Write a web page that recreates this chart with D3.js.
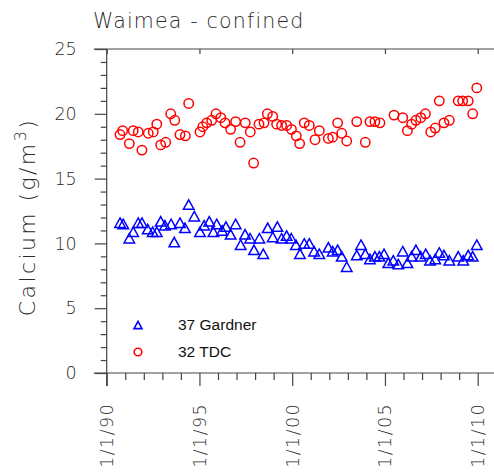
<!DOCTYPE html>
<html>
<head>
<meta charset="utf-8">
<script src="https://cdn.jsdelivr.net/npm/d3@7"></script>
<style>
  html, body { margin: 0; padding: 0; background: #fff; }
  svg { display: block; }
</style>
</head>
<body>
<svg id="chart" width="494" height="472"></svg>
<script>
// Calcium concentrations, Waimea confined aquifer (sample dates as decimal years)
const gardnerDates = [1990.72, 1990.89, 1991.22, 1991.43, 1991.70, 1991.90, 1992.21, 1992.48, 1992.70, 1992.91,
  1993.14, 1993.47, 1993.64, 1993.95, 1994.22, 1994.42, 1994.72, 1995.03, 1995.25, 1995.53,
  1995.75, 1995.93, 1996.22, 1996.43, 1996.68, 1996.95, 1997.22, 1997.46, 1997.73, 1997.94,
  1998.23, 1998.44, 1998.68, 1998.95, 1999.20, 1999.43, 1999.70, 1999.95, 2000.20, 2000.42,
  2000.65, 2000.92, 2001.18, 2001.46, 2001.95, 2002.18, 2002.45, 2002.67, 2002.94, 2003.48,
  2003.71, 2003.94, 2004.19, 2004.46, 2004.70, 2004.95, 2005.18, 2005.45, 2005.72, 2005.96,
  2006.21, 2006.44, 2006.67, 2006.93, 2007.20, 2007.43, 2007.71, 2007.93, 2008.18, 2008.47,
  2008.95, 2009.22, 2009.49, 2009.73, 2009.95];
const gardnerValues = [11.6, 11.5, 10.4, 10.9, 11.6, 11.6, 11.1, 10.9, 10.9, 11.7,
  11.4, 11.5, 10.1, 11.6, 11.2, 13.0, 12.1, 10.9, 11.4, 11.7,
  10.9, 11.5, 11.0, 11.3, 10.7, 11.5, 9.9, 10.7, 10.4, 9.5,
  10.4, 9.2, 11.2, 10.5, 11.3, 10.4, 10.6, 10.4, 9.9, 9.2,
  10.0, 10.0, 9.4, 9.2, 9.7, 9.4, 9.5, 9.0, 8.2, 9.1,
  9.9, 9.2, 8.8, 9.0, 9.0, 9.2, 8.5, 8.7, 8.4, 9.4,
  8.5, 9.0, 9.5, 9.0, 9.2, 8.7, 8.8, 9.3, 9.1, 8.7,
  9.0, 8.7, 9.1, 9.0, 9.9];

const tdcDates = [1990.72, 1990.86, 1991.22, 1991.43, 1991.70, 1991.90, 1992.24, 1992.51, 1992.70, 1992.91,
  1993.18, 1993.45, 1993.67, 1993.95, 1994.24, 1994.42, 1995.03, 1995.18, 1995.39, 1995.66,
  1995.89, 1996.15, 1996.38, 1996.68, 1996.95, 1997.19, 1997.47, 1997.74, 1997.92, 1998.21,
  1998.48, 1998.66, 1998.95, 1999.16, 1999.43, 1999.70, 1999.96, 2000.22, 2000.40, 2000.65,
  2000.92, 2001.23, 2001.46, 2001.95, 2002.18, 2002.45, 2002.67, 2002.94, 2003.48, 2003.94,
  2004.19, 2004.46, 2004.73, 2005.49, 2005.96, 2006.21, 2006.44, 2006.67, 2006.93, 2007.18,
  2007.47, 2007.71, 2007.93, 2008.18, 2008.47, 2008.95, 2009.19, 2009.49, 2009.73, 2009.95];
const tdcValues = [18.4, 18.7, 17.7, 18.7, 18.6, 17.2, 18.5, 18.6, 19.2, 17.6,
  17.8, 20.0, 19.5, 18.4, 18.3, 20.8, 18.6, 19.0, 19.3, 19.5,
  20.0, 19.7, 19.3, 18.8, 19.4, 17.8, 19.3, 18.6, 16.2, 19.2,
  19.3, 20.0, 19.8, 19.2, 19.1, 19.1, 18.8, 18.3, 17.7, 19.3,
  19.1, 18.0, 18.7, 18.1, 18.2, 19.3, 18.5, 17.9, 19.4, 17.8,
  19.4, 19.4, 19.3, 19.9, 19.7, 18.7, 19.2, 19.5, 19.7, 20.0,
  18.6, 18.9, 21.0, 19.3, 19.5, 21.0, 21.0, 21.0, 20.0, 22.0];

const yearTicks = [1990, 1995, 2000, 2005, 2010];
const yearTickLabels = ["1/1/90", "1/1/95", "1/1/00", "1/1/05", "1/1/10"];
const valueTicks = [0, 5, 10, 15, 20, 25];

const seriesNames = ["37 Gardner", "32 TDC"];
const seriesColors = ["#0000ff", "#ff0000"];

const svg = d3.select("#chart");
const W = 494;
const axisColor = "#444";
const labelFont = "'DejaVu Sans', sans-serif";
const labelWeight = 200;
const labelColor = "#2a2a2a";

const x = d3.scaleLinear().domain([1990, 2010]).range([106.7, 477.7]);
const y = d3.scaleLinear().domain([0, 25]).range([373, 49]);

// Title
svg.append("text")
  .attr("x", 93).attr("y", 28)
  .attr("font-family", labelFont)
  .attr("font-weight", labelWeight)
  .attr("font-size", 20.5)
  .attr("letter-spacing", 1.2)
  .attr("fill", labelColor)
  .text("Waimea - confined");

// Frame lines: top, bottom, left
const x0 = x(1990), yTop = y(25), yBot = y(0);
svg.append("line").attr("x1", x0 - 13).attr("x2", W).attr("y1", yTop).attr("y2", yTop)
  .attr("stroke", axisColor).attr("stroke-width", 1.2);
svg.append("line").attr("x1", x0 - 13).attr("x2", W).attr("y1", yBot).attr("y2", yBot)
  .attr("stroke", axisColor).attr("stroke-width", 1.2);
svg.append("line").attr("x1", x0).attr("x2", x0).attr("y1", yTop).attr("y2", yBot + 13)
  .attr("stroke", axisColor).attr("stroke-width", 1.2);

// Left axis: major + minor ticks
const gLeft = svg.append("g").attr("transform", `translate(${x0},0)`)
  .call(d3.axisLeft(y).tickValues(valueTicks).tickSize(12).tickPadding(18).tickFormat(d3.format("d")));
gLeft.select(".domain").remove();
gLeft.selectAll(".tick line").attr("stroke", axisColor).attr("stroke-width", 1.2);
gLeft.selectAll(".tick text")
  .attr("font-family", labelFont).attr("font-weight", labelWeight)
  .attr("font-size", 17.5).attr("fill", labelColor);

const minorValues = d3.range(0, 26).filter(v => v % 5 !== 0);
const gLeftMinor = svg.append("g").attr("transform", `translate(${x0},0)`)
  .call(d3.axisLeft(y).tickValues(minorValues).tickSize(6).tickFormat(""));
gLeftMinor.select(".domain").remove();
gLeftMinor.selectAll(".tick line").attr("stroke", axisColor).attr("stroke-width", 1.2);

// Bottom axis: major ticks with rotated date labels, yearly minor ticks
const gBottom = svg.append("g").attr("transform", `translate(0,${yBot})`)
  .call(d3.axisBottom(x).tickValues(yearTicks).tickSize(13).tickFormat((d, i) => yearTickLabels[i]));
gBottom.select(".domain").remove();
gBottom.selectAll(".tick line").attr("stroke", axisColor).attr("stroke-width", 1.2);
gBottom.selectAll(".tick text")
  .attr("font-family", labelFont).attr("font-weight", labelWeight)
  .attr("font-size", 17.5).attr("fill", labelColor)
  .attr("letter-spacing", 1.4)
  .attr("text-anchor", "end")
  .attr("dy", null)
  .attr("transform", "translate(0,30) rotate(-90)")
  .attr("x", 0).attr("y", 6);

const minorYears = d3.range(1990, 2011).filter(v => v % 5 !== 0);
const gBottomMinor = svg.append("g").attr("transform", `translate(0,${yBot})`)
  .call(d3.axisBottom(x).tickValues(minorYears).tickSize(7).tickFormat(""));
gBottomMinor.select(".domain").remove();
gBottomMinor.selectAll(".tick line").attr("stroke", axisColor).attr("stroke-width", 1.2);

// Top axis: short inward major ticks
const gTop = svg.append("g").attr("transform", `translate(0,${yTop})`)
  .call(d3.axisBottom(x).tickValues(yearTicks).tickSize(5).tickFormat(""));
gTop.select(".domain").remove();
gTop.selectAll(".tick line").attr("stroke", axisColor).attr("stroke-width", 1.2);

// Y axis title
svg.append("text")
  .attr("transform", `translate(35,${(yTop + yBot) / 2 + 6}) rotate(-90)`)
  .attr("text-anchor", "middle")
  .attr("font-family", labelFont).attr("font-weight", labelWeight)
  .attr("font-size", 22).attr("fill", labelColor)
  .attr("letter-spacing", 2.4)
  .call(t => {
    t.append("tspan").text("Calcium (g/m");
    t.append("tspan").attr("dy", -9).attr("font-size", 16).text("3");
    t.append("tspan").attr("dy", 9).text(")");
  });

// Triangle path centred on its bounding box
function trianglePath(s) {
  const h = s * 0.9;
  return `M0,${-h / 2}L${s / 2},${h / 2}L${-s / 2},${h / 2}Z`;
}

// 32 TDC: open red circles
svg.append("g").selectAll("circle")
  .data(d3.zip(tdcDates, tdcValues))
  .join("circle")
  .attr("cx", d => x(d[0])).attr("cy", d => y(d[1]))
  .attr("r", 4.7)
  .attr("fill", "none").attr("stroke", seriesColors[1]).attr("stroke-width", 1.5);

// 37 Gardner: open blue triangles
svg.append("g").selectAll("path")
  .data(d3.zip(gardnerDates, gardnerValues))
  .join("path")
  .attr("transform", d => `translate(${x(d[0])},${y(d[1])})`)
  .attr("d", trianglePath(10.5))
  .attr("fill", "none").attr("stroke", seriesColors[0]).attr("stroke-width", 1.5)
  .attr("stroke-linejoin", "miter");

// Legend
const legend = svg.append("g");
legend.append("path")
  .attr("transform", "translate(138,325)")
  .attr("d", trianglePath(8))
  .attr("fill", "none").attr("stroke", seriesColors[0]).attr("stroke-width", 1.6);
legend.append("circle")
  .attr("cx", 138).attr("cy", 352).attr("r", 3.8)
  .attr("fill", "none").attr("stroke", seriesColors[1]).attr("stroke-width", 1.6);
legend.selectAll("text.lbl")
  .data(seriesNames)
  .join("text")
  .attr("class", "lbl")
  .attr("x", 178).attr("y", (d, i) => 330 + i * 27)
  .attr("font-family", "'Liberation Sans', Arial, sans-serif")
  .attr("font-size", 15.5).attr("fill", "#111")
  .text(d => d);
</script>
</body>
</html>
